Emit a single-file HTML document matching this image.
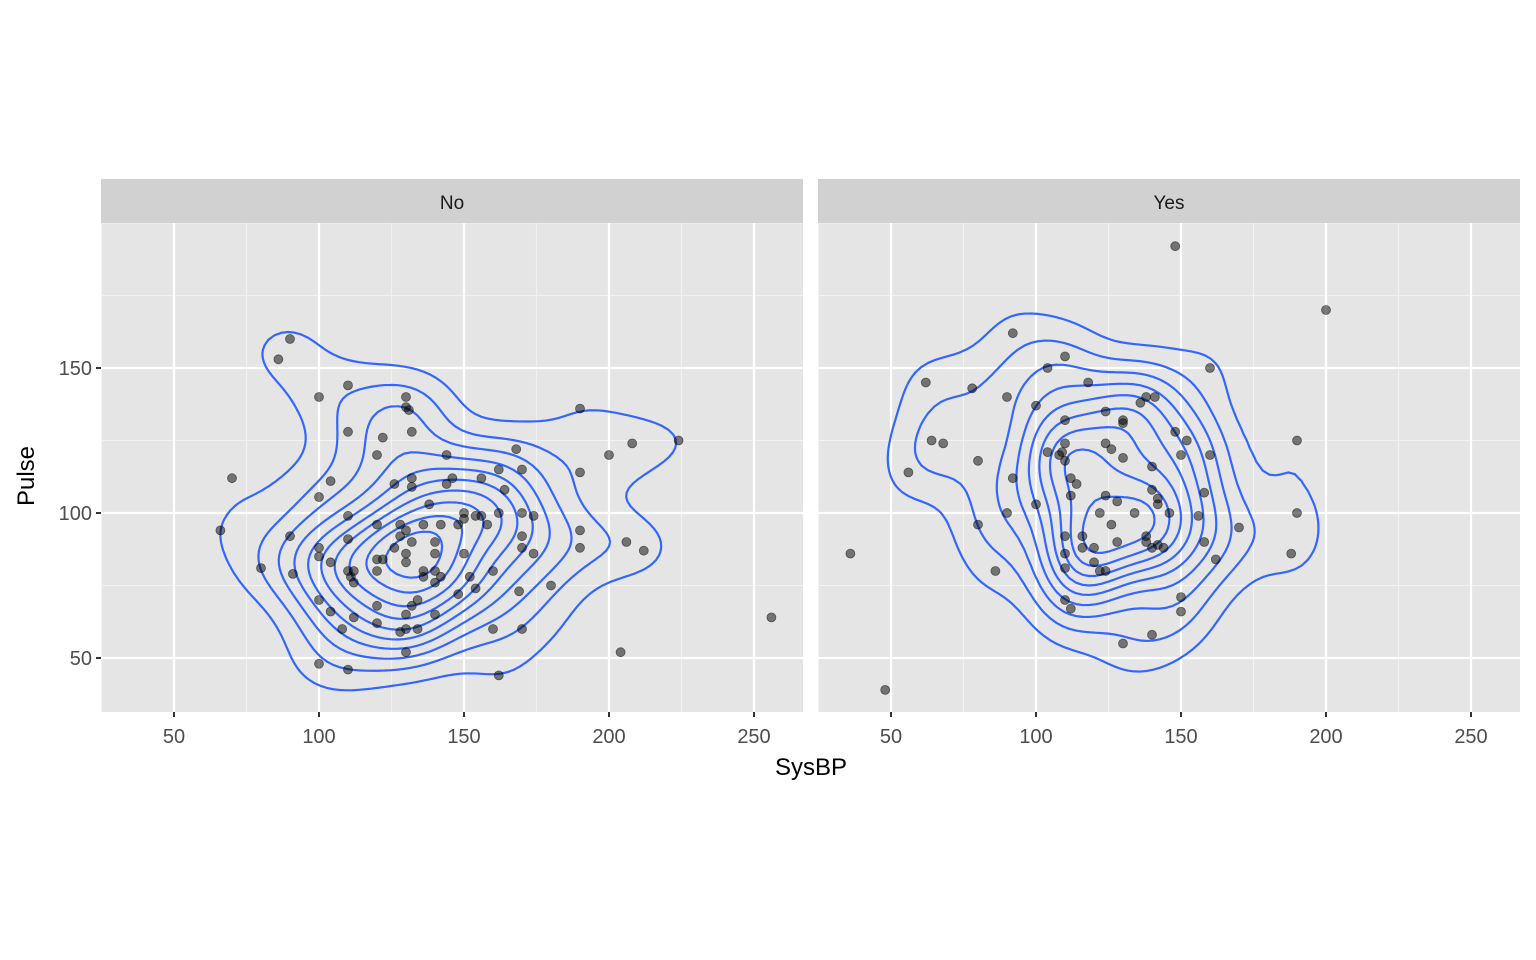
<!DOCTYPE html>
<html><head><meta charset="utf-8">
<style>
html,body{margin:0;padding:0;background:#fff;}
svg{display:block;font-family:"Liberation Sans",Arial,sans-serif;}
</style></head>
<body>
<svg id="chart" width="1536" height="960" viewBox="0 0 1536 960">
<rect x="0" y="0" width="1536" height="960" fill="#fff"/>
<g id="panels"></g>
<text x="26" y="468" font-size="24" fill="#000" text-anchor="middle" transform="rotate(-90 34 468)">Pulse</text>
<text x="811" y="775" font-size="24" fill="#000" text-anchor="middle">SysBP</text>
</svg>
<script>
const facetNames = ["No", "Yes"];
const noX = [90,86,70,66,80,100,110,110,122,120,130,130,131,132,104,100,90,91,100,100,104,110,110,110,111,112,112,100,104,108,112,110,100,120,120,122,120,120,120,126,128,128,130,126,130,130,132,132,132,138,136,142,140,140,136,136,140,142,140,134,132,130,128,134,140,130,130,144,146,144,148,150,150,154,156,158,150,152,154,148,156,162,162,164,168,170,170,174,170,170,174,160,169,170,160,162,180,190,190,190,190,200,208,206,212,224,204,256];
const noY = [160,153,112,94,81,140,144,128,126,120,140,136.5,135.5,128,111,105.5,92,79,88,85,83,99,91,80,78,80,76,70,66,60,64,46,48,96,84,84,80,68,62,110,96,92,94,88,86,83,112,109,90,103,96,96,90,86,80,78,80,78,76,70,68,60,59,60,65,52,65,120,112,110,96,100,98,99,99,96,86,78,74,72,112,115,100,108,122,115,100,99,92,88,86,80,73,60,60,44,75,136,114,94,88,120,124,90,87,125,52,64];
const yesX = [148,200,92,62,68,64,56,36,48,78,80,80,86,90,92,90,100,100,104,110,110,110,104,108,110,109,112,114,112,110,116,116,110,110,110,112,118,124,124,126,130,130,130,124,128,122,134,126,120,120,122,124,128,130,136,138,141,140,140,142,142,146,138,138,140,142,144,140,148,152,150,160,160,156,158,158,162,150,150,170,190,190,188];
const yesY = [192,170,162,145,124,125,114,86,39,143,118,96,80,140,112,100,137,103,150,154,132,124,121,120,118,121,112,110,106,92,92,88,86,81,70,67,145,135,124,122,132,131,119,106,104,100,100,96,88,83,80,80,90,55,138,140,140,116,108,105,103,100,92,90,88,89,88,58,128,125,120,150,120,99,107,90,84,71,66,95,125,100,86];
const xTicks = [50,100,150,200,250];
const yTicks = [50,100,150];
const xMinor = [25,75,125,175,225];
const yMinor = [75,125,175,200];

const NS="http://www.w3.org/2000/svg";
const PW=702, PT=223, PB=712, offsets=[101,818];
function xs(v,p){return offsets[p]+73+(v-50)*2.9;}
function ys(v){return 513-(v-100)*2.9;}
function mk(tag,attrs,parent){const e=document.createElementNS(NS,tag);for(const k in attrs)e.setAttribute(k,attrs[k]);parent.appendChild(e);return e;}
const root=document.getElementById("panels");
const allX=noX.concat(yesX), allY=noY.concat(yesY);
const mnx=Math.min(...allX),mxx=Math.max(...allX),mny=Math.min(...allY),mxy=Math.max(...allY);
const lx=[mnx-(mxx-mnx)*0.05,mxx+(mxx-mnx)*0.05], ly=[mny-(mxy-mny)*0.05,mxy+(mxy-mny)*0.05];

function quant(a,q){const s=[...a].sort((u,v)=>u-v);const h=(s.length-1)*q;const lo=Math.floor(h);return s[lo]+(h-lo)*((s[lo+1]??s[lo])-s[lo]);}
function bw(a){const n=a.length;const m=a.reduce((s,v)=>s+v,0)/n;const sd=Math.sqrt(a.reduce((s,v)=>s+(v-m)*(v-m),0)/(n-1));const iqr=(quant(a,0.75)-quant(a,0.25))/1.34;return 4*1.06*Math.min(sd,iqr)*Math.pow(n,-0.2);}
function pretty(lo,hi){const cell=(hi-lo)/10;const base=Math.pow(10,Math.floor(Math.log10(cell)));const r=cell/base;let u=r<1.5?1:r<3.16?2:r<7.07?5:10;const st=u*base;const out=[];for(let v=Math.ceil(lo/st)*st;v<=hi;v+=st)out.push(v);return out;}

function contours(X,Y){
  const N=110,hx=bw(X)/4,hy=bw(Y)/4;
  const gx=[],gy=[];for(let i=0;i<N;i++){gx.push(lx[0]+(lx[1]-lx[0])*i/(N-1));gy.push(ly[0]+(ly[1]-ly[0])*i/(N-1));}
  const z=[];let zmin=Infinity,zmax=-Infinity;
  for(let i=0;i<N;i++){z.push([]);for(let j=0;j<N;j++){let s=0;for(let k=0;k<X.length;k++){const a=(gx[i]-X[k])/hx,b=(gy[j]-Y[k])/hy;s+=Math.exp(-0.5*(a*a+b*b));}s/=X.length*2*Math.PI*hx*hy;z[i].push(s);zmin=Math.min(zmin,s);zmax=Math.max(zmax,s);}}
  const levels=pretty(zmin,zmax);const res=[];
  for(const L of levels){const segs=[];
    for(let i=0;i<N-1;i++)for(let j=0;j<N-1;j++){
      const c=[[gx[i],gy[j],z[i][j]],[gx[i+1],gy[j],z[i+1][j]],[gx[i+1],gy[j+1],z[i+1][j+1]],[gx[i],gy[j+1],z[i][j+1]]];
      const pts=[];
      for(let e=0;e<4;e++){const A=c[e],B=c[(e+1)%4];if((A[2]<L)!==(B[2]<L)){const t=(L-A[2])/(B[2]-A[2]);pts.push([A[0]+t*(B[0]-A[0]),A[1]+t*(B[1]-A[1])]);}}
      if(pts.length>=2)segs.push([pts[0],pts[1]]);if(pts.length===4)segs.push([pts[2],pts[3]]);
    }
    res.push(segs);}
  return res;
}

const data=[[noX,noY],[yesX,yesY]];
for(let p=0;p<2;p++){
  const L=offsets[p];
  const g=mk("g",{},root);
  
  
  const strip=mk("rect",{x:L,y:179,width:PW,height:44,fill:"#d1d1d1"},g);
  
  
  const st=mk("text",{x:L+PW/2,y:209,"font-size":19,fill:"#1a1a1a","text-anchor":"middle"},g);st.textContent=facetNames[p];
  
  
  const bg=mk("rect",{x:L,y:PT,width:PW,height:PB-PT,fill:"#e5e5e5"},g);
  
  
  const clip=mk("clipPath",{id:"clip"+p},g);mk("rect",{x:L,y:PT,width:PW,height:PB-PT},clip);
  const inner=mk("g",{"clip-path":"url(#clip"+p+")"},g);
  for(const v of xMinor){const l=mk("line",{x1:xs(v,p),x2:xs(v,p),y1:PT,y2:PB,stroke:"#f2f2f2","stroke-width":1.1},inner);}
  for(const v of yMinor){const l=mk("line",{x1:L,x2:L+PW,y1:ys(v),y2:ys(v),stroke:"#f2f2f2","stroke-width":1.1},inner);}
  for(const v of xTicks){const l=mk("line",{x1:xs(v,p),x2:xs(v,p),y1:PT,y2:PB,stroke:"#fff","stroke-width":2.2},inner);}
  for(const v of yTicks){const l=mk("line",{x1:L,x2:L+PW,y1:ys(v),y2:ys(v),stroke:"#fff","stroke-width":2.2},inner);}
  const [X,Y]=data[p];
  const lv=contours(X,Y);
  lv.forEach((segs,k)=>{let d="";for(const s of segs)d+="M"+xs(s[0][0],p).toFixed(2)+" "+ys(s[0][1]).toFixed(2)+"L"+xs(s[1][0],p).toFixed(2)+" "+ys(s[1][1]).toFixed(2);
    if(!d)return;const path=mk("path",{d:d,fill:"none",stroke:"#3366FF","stroke-width":2.2,"stroke-linecap":"round"},inner);
    
    });
  for(let k=0;k<X.length;k++){const c=mk("circle",{cx:xs(X[k],p),cy:ys(Y[k]),r:4.5,fill:"#000","fill-opacity":0.5,stroke:"#000","stroke-opacity":0.5,"stroke-width":0.8},inner);
    
    }
  for(const v of xTicks){const t=mk("line",{x1:xs(v,p),x2:xs(v,p),y1:PB,y2:PB+5,stroke:"#333","stroke-width":2},g);
    const tx=mk("text",{x:xs(v,p),y:743,"font-size":20,fill:"#4d4d4d","text-anchor":"middle"},g);tx.textContent=v;
    
    }
  if(p===0){for(const v of yTicks){const t=mk("line",{x1:L-5,x2:L,y1:ys(v),y2:ys(v),stroke:"#333","stroke-width":2},g);
    const tx=mk("text",{x:L-9,y:ys(v)+7,"font-size":20,fill:"#4d4d4d","text-anchor":"end"},g);tx.textContent=v;
    
    }}
}
</script>
</body></html>
